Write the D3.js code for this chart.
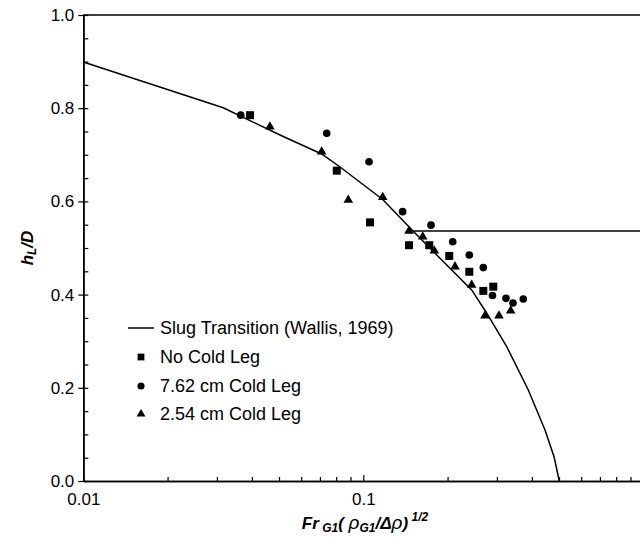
<!DOCTYPE html>
<html><head><meta charset="utf-8">
<script src="https://cdn.jsdelivr.net/npm/d3@7"></script>
<style>
body{margin:0;background:#fff}
svg{display:block}
text{font-family:'Liberation Sans',Arial,Helvetica,sans-serif;fill:#000}
</style></head>
<body><svg id="chart" width="640" height="546"></svg>
<script>
// Slug transition curve (Wallis, 1969)
const curveX=[0.01,0.0316,0.0504,0.0710,0.0826,0.1173,0.1505,0.1793,0.2438,0.2743,0.3252,0.3884,0.4456,0.4800,0.501];
const curveY=[0.899,0.801,0.7425,0.7017,0.6738,0.6041,0.5365,0.4903,0.41,0.3627,0.2882,0.1953,0.1094,0.052,0];
// horizontal limit line
const limitX=[0.1505,1.0];
const limitY=[0.5365,0.5365];
// No Cold Leg (squares)
const noLegX=[0.0394,0.0804,0.1057,0.1456,0.172,0.2028,0.2391,0.2683,0.2912];
const noLegY=[0.785,0.666,0.555,0.506,0.506,0.483,0.449,0.408,0.417];
// 7.62 cm Cold Leg (circles)
const leg762X=[0.0365,0.074,0.1048,0.1382,0.1745,0.2086,0.2391,0.2683,0.2893,0.3233,0.3424,0.3727];
const leg762Y=[0.785,0.746,0.685,0.578,0.549,0.5135,0.485,0.458,0.398,0.392,0.382,0.3906];
// 2.54 cm Cold Leg (triangles)
const leg254X=[0.0464,0.071,0.0884,0.1173,0.1456,0.163,0.1793,0.2126,0.2438,0.272,0.3052,0.336];
const leg254Y=[0.760,0.7067,0.603,0.6088,0.5365,0.524,0.494,0.46,0.4206,0.3547,0.3547,0.3655];
// ticks
const xMajorTicks=[0.01,0.1,1];
const xMinorTicks=[0.02,0.03,0.04,0.05,0.06,0.07,0.08,0.09,0.2,0.3,0.4,0.5,0.6,0.7,0.8,0.9];
const yLabelTicks=[0,0.2,0.4,0.6,0.8,1.0];
const yAllTicks=d3.range(0,1.0001,0.05);
const legendLabels=["Slug Transition (Wallis, 1969)","No Cold Leg","7.62 cm Cold Leg","2.54 cm Cold Leg"];

const svg=d3.select("#chart");
const L=83.3,R=643.3,T=15,B=481;
const x=d3.scaleLog().domain([0.01,1]).range([L,R]);
const y=d3.scaleLinear().domain([0,1]).range([B,T]);

// top border
svg.append("line").attr("x1",L).attr("x2",R).attr("y1",T).attr("y2",T)
  .attr("stroke","#000").attr("stroke-width",1.6);

// x axis
const gx=svg.append("g").attr("transform",`translate(0,${B})`);
gx.call(d3.axisBottom(x).tickValues(xMinorTicks).tickSize(-4).tickSizeOuter(0).tickFormat(""));
gx.append("g").call(d3.axisBottom(x).tickValues(xMajorTicks).tickSize(-6).tickSizeOuter(0).tickFormat(d=>d===1?"":(d===0.01?"0.01":"0.1")));
gx.selectAll("path.domain").attr("stroke","#000").attr("stroke-width",1.6);
gx.selectAll(".tick line").attr("stroke","#000").attr("stroke-width",1.2);
gx.selectAll(".tick text").attr("y",12).attr("font-size",17).attr("font-family","'Liberation Sans',Arial,sans-serif").attr("fill","#000");

// y axis
const gy=svg.append("g").attr("transform",`translate(${L},0)`);
gy.call(d3.axisLeft(y).tickValues(yAllTicks).tickSize(-5).tickSizeOuter(0).tickFormat(""));
gy.append("g").call(d3.axisLeft(y).tickValues(yLabelTicks).tickSize(5).tickSizeOuter(0).tickFormat(d3.format(".1f")));
gy.selectAll("path.domain").attr("stroke","#000").attr("stroke-width",1.6);
gy.selectAll(".tick line").attr("stroke","#000").attr("stroke-width",1.2);
gy.selectAll(".tick text").attr("x",-9).attr("font-size",17).attr("font-family","'Liberation Sans',Arial,sans-serif").attr("fill","#000");

// curve
const line=d3.line().x(d=>x(d[0])).y(d=>y(d[1]));
svg.append("path").datum(d3.zip(curveX,curveY)).attr("d",line)
  .attr("fill","none").attr("stroke","#000").attr("stroke-width",1.5);
svg.append("path").datum(d3.zip(limitX,limitY)).attr("d",line)
  .attr("fill","none").attr("stroke","#000").attr("stroke-width",1.5);

// markers
function drawSeries(xs,ys,type,size){
  svg.append("g").selectAll("path").data(d3.zip(xs,ys)).join("path")
    .attr("transform",d=>`translate(${x(d[0])},${y(d[1])})`)
    .attr("d",d3.symbol().type(type).size(size)).attr("fill","#000");
}
drawSeries(noLegX,noLegY,d3.symbolSquare,64);
drawSeries(leg762X,leg762Y,d3.symbolCircle,46);
drawSeries(leg254X,leg254Y,d3.symbolTriangle,40);

// legend
const lg=svg.append("g");
const rowY=[328,357,386,414];
lg.append("line").attr("x1",128).attr("x2",154).attr("y1",rowY[0]).attr("y2",rowY[0]).attr("stroke","#000").attr("stroke-width",1.5);
const legTypes=[null,d3.symbolSquare,d3.symbolCircle,d3.symbolTriangle];
const legSizes=[0,46,40,34];
legendLabels.forEach((t,i)=>{
  if(i>0) lg.append("path").attr("transform",`translate(141,${rowY[i]})`).attr("d",d3.symbol().type(legTypes[i]).size(legSizes[i])).attr("fill","#000");
  lg.append("text").attr("x",160).attr("y",rowY[i]).attr("dy","0.35em").attr("font-size",18).text(t);
});

// y axis title
const yt=svg.append("text").attr("transform","translate(33,248) rotate(-90)").attr("text-anchor","middle")
  .attr("font-weight","bold").attr("font-style","italic").attr("font-size",17);
yt.append("tspan").text("h");
yt.append("tspan").attr("font-size",12).attr("dy",3).text("L");
yt.append("tspan").attr("dy",-3).text("/D");

// x axis title
const xt=svg.append("text").attr("x",365).attr("y",529).attr("text-anchor","middle")
  .attr("font-weight","bold").attr("font-style","italic").attr("font-size",17);
xt.append("tspan").text("Fr");
xt.append("tspan").attr("font-size",12).attr("dy",3).text(" G1");
xt.append("tspan").attr("dy",-3).text("( ");
xt.append("tspan").attr("font-weight","normal").attr("font-size",19).text("ρ");
xt.append("tspan").attr("font-size",12).attr("dy",3).text("G1");
xt.append("tspan").attr("dy",-3).text("/");
xt.append("tspan").text("Δ");
xt.append("tspan").attr("font-weight","normal").attr("font-size",19).text("ρ");
xt.append("tspan").text(")");
xt.append("tspan").attr("font-size",12).attr("dy",-8).text(" 1/2");
</script></body></html>
